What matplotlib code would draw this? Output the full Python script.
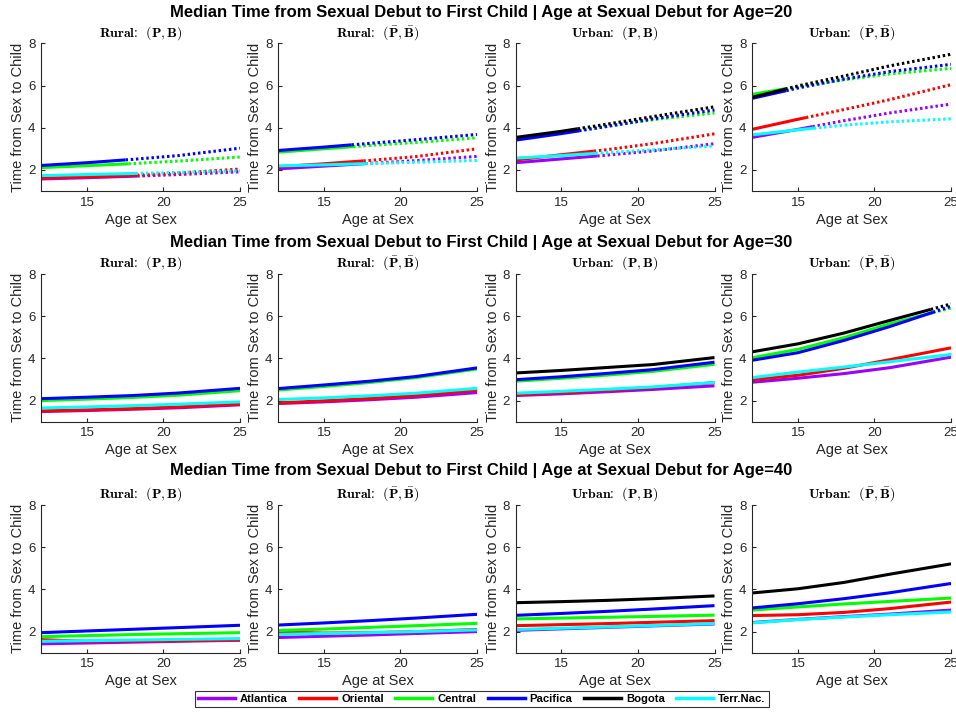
import numpy as np
import matplotlib
matplotlib.use("Agg")
import matplotlib.pyplot as plt
from matplotlib.lines import Line2D

plt.rcParams['font.family'] = ['Liberation Sans', 'DejaVu Sans']
plt.rcParams['mathtext.fontset'] = 'cm'

regions = ['Atlantica', 'Oriental', 'Central', 'Pacifica', 'Bogota', 'Terr.Nac.']
colors = ['#9900ff', '#ff0000', '#00ff00', '#0000ff', '#000000', '#00ffff']
ages = [20, 30, 40]
x_age = [12, 15, 18, 21, 25]
panel_titles = [r'$\mathbf{Rural}\colon\ \ (\mathbf{P},\mathbf{B})$',
                r'$\mathbf{Rural}\colon\ \ (\bar{\mathbf{P}},\bar{\mathbf{B}})$',
                r'$\mathbf{Urban}\colon\ \ (\mathbf{P},\mathbf{B})$',
                r'$\mathbf{Urban}\colon\ \ (\bar{\mathbf{P}},\bar{\mathbf{B}})$']

# order of series in each panel: Atlantica, Oriental, Central, Pacifica, Bogota, Terr.Nac.
# ---- Age = 20 ----
a20_rural_PB = [[1.57, 1.63, 1.70, 1.78, 1.91],
                [1.61, 1.67, 1.74, 1.85, 2.04],
                [2.11, 2.20, 2.30, 2.42, 2.61],
                [2.21, 2.34, 2.50, 2.68, 3.03],
                None,
                [1.73, 1.78, 1.83, 1.88, 1.96]]
a20_rural_PBbar = [[2.05, 2.18, 2.31, 2.44, 2.64],
                   [2.15, 2.29, 2.45, 2.63, 3.00],
                   [2.84, 3.00, 3.16, 3.30, 3.52],
                   [2.92, 3.08, 3.26, 3.43, 3.68],
                   None,
                   [2.19, 2.24, 2.30, 2.36, 2.45]]
a20_urban_PB = [[2.34, 2.52, 2.70, 2.90, 3.24],
                [2.47, 2.72, 2.96, 3.25, 3.71],
                [3.47, 3.77, 4.08, 4.38, 4.70],
                [3.41, 3.72, 4.06, 4.42, 4.84],
                [3.54, 3.83, 4.17, 4.53, 4.99],
                [2.56, 2.68, 2.82, 2.95, 3.14]]
a20_urban_PBbar = [[3.54, 3.92, 4.33, 4.70, 5.12],
                   [3.92, 4.40, 4.86, 5.33, 6.04],
                   [5.58, 5.95, 6.27, 6.55, 6.81],
                   [5.39, 5.88, 6.30, 6.66, 7.00],
                   [5.44, 5.98, 6.45, 6.93, 7.48],
                   [3.66, 3.90, 4.12, 4.28, 4.42]]
# ---- Age = 30 ----
a30_rural_PB = [[1.48, 1.53, 1.59, 1.66, 1.80],
                [1.51, 1.56, 1.62, 1.70, 1.84],
                [2.00, 2.07, 2.15, 2.26, 2.47],
                [2.09, 2.16, 2.24, 2.36, 2.58],
                None,
                [1.65, 1.70, 1.76, 1.83, 1.94]]
a30_rural_PBbar = [[1.86, 1.94, 2.04, 2.16, 2.38],
                   [1.89, 1.99, 2.10, 2.24, 2.49],
                   [2.50, 2.67, 2.86, 3.09, 3.50],
                   [2.57, 2.74, 2.92, 3.14, 3.55],
                   None,
                   [2.05, 2.13, 2.23, 2.35, 2.58]]
a30_urban_PB = [[2.24, 2.32, 2.42, 2.53, 2.70],
                [2.28, 2.38, 2.49, 2.62, 2.85],
                [2.92, 3.06, 3.21, 3.39, 3.72],
                [2.99, 3.13, 3.29, 3.47, 3.82],
                [3.31, 3.43, 3.57, 3.71, 4.04],
                [2.35, 2.44, 2.54, 2.65, 2.86]]
a30_urban_PBbar = [[2.87, 3.06, 3.28, 3.56, 4.06],
                   [2.99, 3.20, 3.53, 3.94, 4.50],
                   [4.03, 4.43, 4.98, 5.64, 6.39],
                   [3.91, 4.27, 4.85, 5.51, 6.47],
                   [4.31, 4.69, 5.20, 5.80, 6.58],
                   [3.09, 3.35, 3.59, 3.84, 4.19]]
# ---- Age = 40 ----
a40_rural_PB = [[1.42, 1.46, 1.50, 1.54, 1.59],
                [1.62, 1.54, 1.55, 1.57, 1.61],
                [1.76, 1.81, 1.86, 1.90, 1.95],
                [1.95, 2.03, 2.11, 2.19, 2.30],
                None,
                [1.54, 1.57, 1.60, 1.63, 1.67]]
a40_rural_PBbar = [[1.72, 1.78, 1.84, 1.91, 2.00],
                   [1.98, 1.93, 1.95, 2.00, 2.10],
                   [2.05, 2.12, 2.20, 2.28, 2.39],
                   [2.31, 2.41, 2.52, 2.64, 2.82],
                   None,
                   [1.87, 1.91, 1.95, 2.00, 2.08]]
a40_urban_PB = [[2.06, 2.13, 2.20, 2.27, 2.36],
                [2.28, 2.33, 2.38, 2.44, 2.52],
                [2.60, 2.64, 2.68, 2.72, 2.78],
                [2.77, 2.86, 2.96, 3.07, 3.23],
                [3.37, 3.42, 3.48, 3.56, 3.69],
                [2.10, 2.16, 2.22, 2.29, 2.38]]
a40_urban_PBbar = [[2.43, 2.58, 2.71, 2.83, 3.02],
                   [2.76, 2.80, 2.91, 3.09, 3.40],
                   [3.02, 3.17, 3.31, 3.43, 3.59],
                   [3.12, 3.32, 3.56, 3.84, 4.28],
                   [3.83, 4.03, 4.33, 4.72, 5.21],
                   [2.41, 2.57, 2.69, 2.80, 2.93]]

panels = [[a20_rural_PB, a20_rural_PBbar, a20_urban_PB, a20_urban_PBbar],
          [a30_rural_PB, a30_rural_PBbar, a30_urban_PB, a30_urban_PBbar],
          [a40_rural_PB, a40_rural_PBbar, a40_urban_PB, a40_urban_PBbar]]


def split_at_age(xs, ys, age):
    """Solid where age at sex + time <= current age, dotted afterwards."""
    xs = np.asarray(xs, float)
    ys = np.asarray(ys, float)
    s = xs + ys - age
    if np.all(s <= 0):
        return (xs, ys), None
    i = int(np.argmax(s > 0))
    if i == 0:
        return None, (xs, ys)
    t = -s[i - 1] / (s[i] - s[i - 1])
    xc = xs[i - 1] + t * (xs[i] - xs[i - 1])
    yc = ys[i - 1] + t * (ys[i] - ys[i - 1])
    solid = (np.r_[xs[:i], xc], np.r_[ys[:i], yc])
    dotted = (np.r_[xc, xs[i:]], np.r_[yc, ys[i:]])
    return solid, dotted


fig = plt.figure(figsize=(9.56, 7.13), dpi=100)
W, H = 956.0, 713.0
col_left_px = [41, 278, 515.5, 752]
row_bottom_px = [191, 421.7, 652.7]
ax_w_px, ax_h_px = 199, 147.7
row_title_y_px = [13, 242, 470]
axis_color = '#262626'

for r in range(3):
    age = ages[r]
    fig.text(0.503, 1 - row_title_y_px[r] / H,
             'Median Time from Sexual Debut to First Child | Age at Sexual Debut for Age=%d' % age,
             ha='center', va='center', fontsize=12, fontweight='bold')
    for c in range(4):
        ax = fig.add_axes([col_left_px[c] / W, 1 - row_bottom_px[r] / H, ax_w_px / W, ax_h_px / H])
        data = panels[r][c]
        for k, ys in enumerate(data):
            if ys is None:
                continue
            solid, dotted = split_at_age(x_age, ys, age)
            if solid is not None:
                ax.plot(solid[0], solid[1], color=colors[k], lw=2.2,
                        solid_capstyle='butt', solid_joinstyle='round')
            if dotted is not None:
                ax.plot(dotted[0], dotted[1], color=colors[k], lw=2.2,
                        linestyle=(0, (0.8, 0.9)), dash_capstyle='butt')
        ax.set_xlim(12, 25)
        ax.set_ylim(1, 8)
        ax.set_xticks([15, 20, 25])
        ax.set_yticks([2, 4, 6, 8])
        for s in ['top', 'right']:
            ax.spines[s].set_visible(False)
        for s in ['left', 'bottom']:
            ax.spines[s].set_color(axis_color)
            ax.spines[s].set_linewidth(0.8)
        ax.tick_params(direction='in', length=3, width=0.8, colors=axis_color,
                       labelsize=9.5, pad=4)
        ax.set_xlabel('Age at Sex', fontsize=10.5, color=axis_color, labelpad=3)
        ax.set_ylabel('Time from Sex to Child', fontsize=10.5, color=axis_color, labelpad=2)
        ax.set_title(panel_titles[c], fontsize=10, pad=5)

handles = [Line2D([], [], color=colors[k], lw=2.5) for k in range(6)]
leg = fig.legend(handles, regions, loc='center', ncol=6,
                 bbox_to_anchor=(0.504, 1 - 699 / H), frameon=True, fancybox=False,
                 edgecolor='black', prop={'weight': 'bold', 'size': 8.1},
                 handlelength=3.3, columnspacing=1.0, handletextpad=0.45,
                 borderpad=0.3)
leg.get_frame().set_linewidth(0.8)

fig.savefig('out.png', dpi=100)
